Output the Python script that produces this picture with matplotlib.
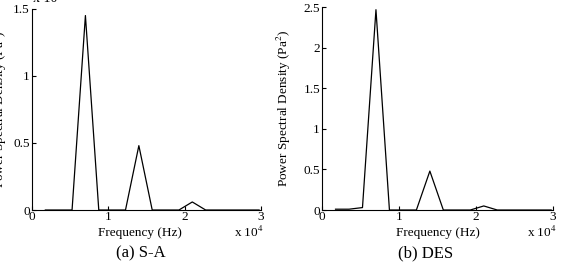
import numpy as np
import matplotlib
matplotlib.use('Agg')
import matplotlib.pyplot as plt

plt.rcParams['font.family'] = 'Liberation Serif'
plt.rcParams['mathtext.fontset'] = 'stix'

# frequency bins (x 10^4 Hz)
freq = [0.175, 0.35, 0.525, 0.70, 0.875, 1.05, 1.225, 1.40, 1.575, 1.75,
        1.925, 2.10, 2.275, 2.45, 2.625, 2.80, 2.975]
psd_sa = [0.0, 0.0, 0.0, 1.45, 0.0, 0.0, 0.0, 0.48, 0.0, 0.0,
          0.0, 0.06, 0.0, 0.0, 0.0, 0.0, 0.0]
psd_des = [0.01, 0.01, 0.03, 2.47, 0.0, 0.0, 0.0, 0.48, 0.0, 0.0,
           0.0, 0.05, 0.0, 0.0, 0.0, 0.0, 0.0]

fig = plt.figure(figsize=(5.69, 2.64), dpi=100)

panels = [
    # rect, data, ymax, yticks, yticklabels, caption, ylabel x, xlabel x, caption x, exp x
    ([0.0562, 0.2045, 0.4025, 0.762], psd_sa, 1.5, [0, 0.5, 1, 1.5], ['0', '0.5', '1', '1.5'],
     '(a) S-A', -0.10, 0.47, 0.476, 0.945),
    ([0.566, 0.2045, 0.406, 0.768], psd_des, 2.5, [0, 0.5, 1, 1.5, 2, 2.5],
     ['0', '0.5', '1', '1.5', '2', '2.5'], '(b) DES', -0.125, 0.50, 0.446, 0.953),
]

for rect, vals, ymax, yt, ytl, cap, ylx, xlx, capx, expx in panels:
    ax = fig.add_axes(rect)
    ax.plot(freq, vals, color='black', lw=0.9)
    ax.set_xlim(0, 3)
    ax.set_ylim(0, ymax)
    ax.spines['top'].set_visible(False)
    ax.spines['right'].set_visible(False)
    ax.set_xticks([0, 1, 2, 3])
    ax.set_xticklabels(['0', '1', '2', '3'])
    ax.set_yticks(yt)
    ax.set_yticklabels(ytl)
    ax.tick_params(direction='in', length=3, labelsize=9.5)
    ax.tick_params(axis='x', pad=1)
    ax.tick_params(axis='y', pad=1.5)
    ax.set_xlabel('Frequency (Hz)', fontsize=9.5)
    ax.xaxis.set_label_coords(xlx, -0.085)
    ax.set_ylabel('Power Spectral Density (Pa$^2$)', fontsize=9.5)
    ax.yaxis.set_label_coords(ylx, 0.5)
    ax.text(expx, -0.11, 'x 10$^4$', transform=ax.transAxes, fontsize=9.5, ha='center', va='center')
    ax.text(0.005, 1.02, 'x 10', transform=ax.transAxes, fontsize=10, ha='left', va='bottom')
    ax.text(capx, -0.214, cap, transform=ax.transAxes, fontsize=12, ha='center', va='center')

fig.savefig('out.png', dpi=100)
